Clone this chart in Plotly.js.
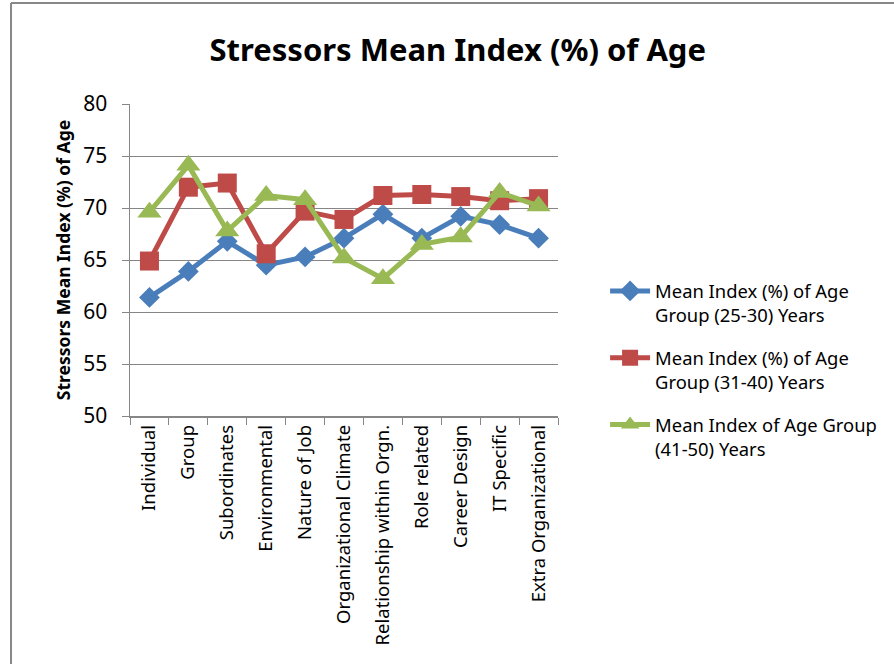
<!DOCTYPE html>
<html>
<head>
<meta charset="utf-8">
<script src="https://cdn.plot.ly/plotly-3.0.1.min.js"></script>
<style>html,body{margin:0;padding:0;background:#fff;}#chart{width:894px;height:664px;}</style>
</head>
<body>
<div id="chart"></div>
<script>
const categories = ["Individual","Group","Subordinates","Environmental","Nature of Job","Organizational Climate","Relationship within Orgn.","Role related","Career Design","IT Specific","Extra Organizational"];
const age25to30 = [61.4, 63.9, 66.8, 64.5, 65.3, 67.1, 69.4, 67.1, 69.2, 68.4, 67.1];
const age31to40 = [64.9, 72.0, 72.4, 65.6, 69.7, 68.9, 71.2, 71.3, 71.1, 70.7, 70.9];
const age41to50 = [69.6, 74.1, 67.8, 71.2, 70.8, 65.2, 63.2, 66.5, 67.2, 71.5, 70.2];
const seriesNames = ["Mean Index (%) of Age<br>Group (25-30) Years","Mean Index (%) of Age<br>Group (31-40) Years","Mean Index of Age Group<br>(41-50) Years"];
const yTicks = [50,55,60,65,70,75,80];

const FONT = "Noto Sans, Open Sans, sans-serif";
const traces = [
  {x: categories, y: age25to30, name: seriesNames[0], legendgroup: 'g1', type: 'scatter', mode: 'lines+markers',
   line: {color: '#4A7EBB', width: 5}, marker: {symbol: 'diamond', size: 16, color: '#4A7EBB'}},
  {x: categories, y: age31to40, name: seriesNames[1], legendgroup: 'g2', type: 'scatter', mode: 'lines+markers',
   line: {color: '#BE4B48', width: 5}, marker: {symbol: 'square', size: 19, color: '#BE4B48'}},
  {x: categories, y: age41to50, name: seriesNames[2], legendgroup: 'g3', type: 'scatter', mode: 'lines+markers',
   line: {color: '#98B954', width: 5}, marker: {symbol: 'triangle-up', size: 21, color: '#98B954'}}
];

const layout = {
  width: 894, height: 664,
  margin: {l: 130, r: 336, t: 104, b: 248},
  paper_bgcolor: '#fff', plot_bgcolor: '#fff',
  font: {family: FONT, color: '#000'},
  title: {text: '<b>Stressors Mean Index (%) of Age</b>', font: {family: FONT, size: 31, color: '#000'},
          x: 0.512, xanchor: 'center', y: 0.924, yanchor: 'middle'},
  xaxis: {type: 'category', tickson: 'boundaries', ticks: 'outside', ticklen: 7, tickcolor: '#868686',
          showline: true, linecolor: '#868686', linewidth: 1.5, showgrid: false, tickangle: -90,
          tickfont: {family: FONT, size: 18.5, color: '#000'}, range: [-0.5, 10.5], fixedrange: true},
  yaxis: {range: [50, 80], tickvals: yTicks, ticks: 'outside', ticklen: 7, tickcolor: '#868686',
          showline: true, linecolor: '#868686', linewidth: 1.5, showgrid: true, gridcolor: '#868686', gridwidth: 1,
          zeroline: false, tickfont: {family: FONT, size: 21, color: '#000'}, ticklabelstandoff: 10,
          title: {text: '<b>Stressors Mean Index (%) of Age</b>', font: {family: FONT, size: 17.5, color: '#000'}, standoff: 8}},
  showlegend: true,
  legend: {x: 1.11, xanchor: 'left', y: 0.46, yanchor: 'top', valign: 'top', traceorder: 'grouped', tracegroupgap: 16,
           font: {family: FONT, size: 18.4, color: '#000'}, bgcolor: 'rgba(0,0,0,0)', itemwidth: 40},
  shapes: [
    {type: 'line', xref: 'paper', yref: 'paper', x0: -0.278, x1: -0.278, y0: -0.9, y1: 1.324, line: {color: '#888', width: 2}},
    {type: 'line', xref: 'paper', yref: 'paper', x0: -0.278, x1: 1.9, y0: 1.324, y1: 1.324, line: {color: '#888', width: 2}}
  ]
};

Plotly.newPlot('chart', traces, layout, {displayModeBar: false, staticPlot: true});
</script>
</body>
</html>
